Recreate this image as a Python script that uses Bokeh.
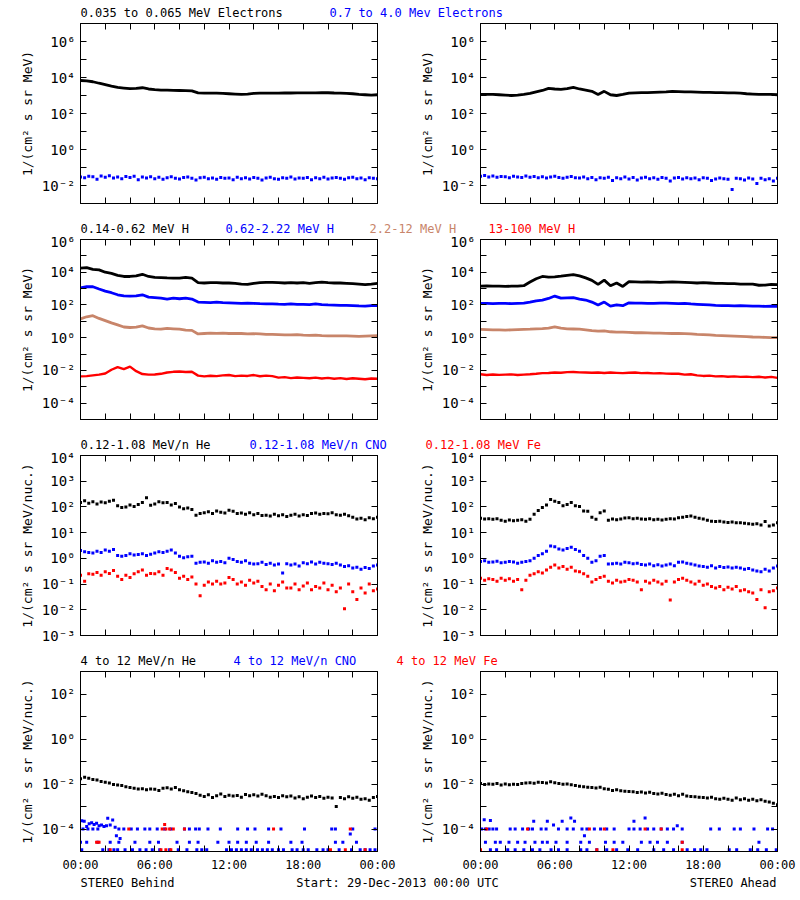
from bokeh.plotting import figure
from bokeh.layouts import column, row
from bokeh.models import Range1d, FixedTicker, LogAxis, LinearAxis, Label, CustomJSTickFormatter
from bokeh.embed import file_html
from bokeh.resources import INLINE

FONT = "DejaVu Sans Mono"
BLACK, BLUE, RED, BROWN = "#000000", "#0000FF", "#FF0000", "#C8856A"

# ---------------- time grids (hours after 29-Dec-2013 00:00 UTC) ----------------
HOURS_30MIN = [i * 0.5 for i in range(49)]
HOURS_20MIN = [i / 3 for i in range(73)]

TIME_TICKS = [0, 6, 12, 18, 24]
TIME_LABELS = ["00:00", "06:00", "12:00", "18:00", "00:00"]
TIME_MINOR = [2, 4, 8, 10, 14, 16, 20, 22]

# ---------------- row 1 : electrons ----------------
ELEC_LO_BEHIND = [6800, 6500, 5800, 4800, 4000, 3300, 2800, 2600, 2400, 2500, 2700, 2300, 2100, 2000, 2000, 1950,
                  1900, 1850, 1800, 1400, 1350, 1350, 1350, 1300, 1250, 1200, 1150, 1200, 1300, 1350, 1350, 1350,
                  1350, 1380, 1380, 1400, 1400, 1400, 1400, 1420, 1420, 1380, 1350, 1300, 1250, 1150, 1100, 1050, 1100]
ELEC_LO_AHEAD = [1150, 1150, 1150, 1100, 1050, 1000, 1050, 1150, 1300, 1600, 1900, 2500, 2300, 2200, 2400, 2800,
                 2300, 2000, 1700, 1150, 1700, 1100, 1000, 1150, 1350, 1400, 1450, 1450, 1500, 1550, 1600, 1700,
                 1650, 1600, 1600, 1550, 1500, 1500, 1450, 1450, 1400, 1400, 1350, 1250, 1200, 1150, 1150, 1150, 1100]
ELEC_HI_BEHIND = [0.030, 0.027, 0.033, 0.031, 0.022, 0.034, 0.029, 0.035, 0.026, 0.030, 0.024, 0.032,
                  0.028, 0.033, 0.021, 0.030, 0.026, 0.031, 0.024, 0.029, 0.022, 0.027, 0.031, 0.025,
                  0.023, 0.028, 0.030, 0.025, 0.020, 0.027, 0.029, 0.024, 0.026, 0.022, 0.028, 0.025,
                  0.026, 0.021, 0.029, 0.024, 0.027, 0.023, 0.028, 0.025, 0.020, 0.026, 0.029, 0.024,
                  0.022, 0.027, 0.025, 0.030, 0.023, 0.026, 0.025, 0.028, 0.021, 0.027, 0.024, 0.029,
                  0.023, 0.026, 0.028, 0.025, 0.022, 0.027, 0.029, 0.024, 0.026, 0.021, 0.027, 0.025, 0.024]
ELEC_HI_AHEAD = [0.033, 0.036, 0.030, 0.034, 0.029, 0.032, 0.031, 0.027, 0.033, 0.030, 0.028, 0.034,
                 0.029, 0.032, 0.027, 0.031, 0.026, 0.030, 0.033, 0.028, 0.025, 0.029, 0.032, 0.027,
                 0.026, 0.030, 0.024, 0.028, 0.021, 0.027, 0.025, 0.029, 0.019, 0.027, 0.024, 0.030,
                 0.023, 0.028, 0.020, 0.026, 0.029, 0.024, 0.027, 0.022, 0.028, 0.025, 0.018, 0.026,
                 0.028, 0.023, 0.027, 0.024, 0.026, 0.021, 0.027, 0.025, 0.019, 0.023, 0.026, 0.024,
                 0.022, 0.006, 0.025, 0.024, 0.020, 0.026, 0.023, 0.013, 0.025, 0.021, 0.024, 0.018, 0.025]

# ---------------- row 2 : protons ----------------
H1_BEHIND = [18000, 19000, 15000, 14000, 10000, 8500, 6500, 5500, 5500, 6000, 7500, 5500, 4800, 4700, 4500, 4400,
             4300, 4800, 4400, 2300, 2200, 2300, 2300, 2200, 2200, 2100, 1900, 1800, 2100, 2300, 2400, 2400,
             2300, 2200, 2300, 2200, 2300, 2100, 2300, 2500, 2300, 2200, 2200, 2100, 2000, 1900, 1750, 1900, 2100]
H2_BEHIND = [1100, 1300, 1300, 950, 700, 560, 420, 360, 350, 360, 420, 300, 280, 260, 230, 260,
             240, 260, 230, 150, 145, 140, 150, 140, 135, 130, 125, 130, 125, 120, 118, 115,
             112, 110, 115, 110, 108, 105, 115, 105, 100, 98, 95, 95, 92, 88, 85, 90, 92]
H3_BEHIND = [14, 19, 22, 15, 11, 8, 6, 4.5, 4.2, 4.4, 5.3, 3.9, 3.5, 3.3, 3.7, 3.5,
             3.3, 2.9, 2.8, 1.7, 1.8, 1.9, 1.85, 1.9, 1.8, 1.85, 1.8, 1.7, 1.75, 1.7, 1.6, 1.6,
             1.55, 1.5, 1.5, 1.55, 1.45, 1.4, 1.45, 1.35, 1.3, 1.3, 1.28, 1.3, 1.25, 1.2, 1.25, 1.3, 1.35]
H4_BEHIND = [0.0043, 0.0045, 0.005, 0.0055, 0.0065, 0.011, 0.016, 0.012, 0.017, 0.009, 0.006, 0.0055, 0.0056,
             0.0062, 0.0075, 0.0082, 0.0085, 0.008, 0.0083, 0.0048, 0.0043, 0.0047, 0.0045, 0.005, 0.0052,
             0.0045, 0.0048, 0.0046, 0.0052, 0.0044, 0.0048, 0.0045, 0.0036, 0.0039, 0.0034, 0.0037, 0.0035,
             0.0033, 0.0036, 0.0032, 0.0035, 0.0031, 0.0034, 0.003, 0.0033, 0.0031, 0.0029, 0.0032, 0.0031]
H1_AHEAD = [1400, 1450, 1400, 1400, 1350, 1400, 1400, 1500, 2500, 4000, 5500, 5000, 5200, 5800, 6500, 7200,
            6000, 4500, 3200, 1800, 3300, 1500, 2200, 1350, 2700, 2600, 2500, 2600, 2500, 2400, 2500, 2600,
            2500, 2400, 2300, 2200, 2300, 2200, 2100, 2100, 2000, 2000, 1900, 1900, 1850, 1600, 1650, 1800, 1750]
H2_AHEAD = [125, 125, 120, 125, 125, 120, 125, 130, 150, 180, 200, 250, 350, 260, 270, 280,
            230, 200, 150, 100, 150, 85, 100, 90, 135, 130, 128, 125, 125, 130, 128, 125,
            120, 125, 115, 110, 105, 100, 95, 92, 90, 88, 90, 88, 85, 85, 82, 85, 82]
H3_AHEAD = [3.2, 3.1, 3.0, 3.0, 2.9, 3.0, 3.1, 3.2, 3.3, 3.5, 3.6, 3.8, 4.5, 3.8, 3.5, 3.4,
            3.3, 3.0, 2.7, 2.5, 2.6, 2.3, 2.2, 2.2, 2.1, 2.0, 2.0, 1.95, 1.9, 1.9, 1.85, 1.8,
            1.8, 1.75, 1.7, 1.6, 1.55, 1.5, 1.4, 1.35, 1.3, 1.25, 1.2, 1.15, 1.1, 1.08, 1.05, 1.02, 1.0]
H4_AHEAD = [0.0058, 0.0052, 0.0056, 0.0053, 0.0055, 0.0057, 0.0052, 0.0055, 0.0058, 0.0062, 0.0068, 0.007,
            0.0075, 0.0072, 0.0078, 0.008, 0.0076, 0.0074, 0.0072, 0.0075, 0.007, 0.0074, 0.0071, 0.0068,
            0.0072, 0.0075, 0.0068, 0.007, 0.0066, 0.0068, 0.0064, 0.0062, 0.0063, 0.0055, 0.0058, 0.005,
            0.0046, 0.0048, 0.0043, 0.0045, 0.0041, 0.0043, 0.004, 0.0042, 0.0039, 0.0041, 0.0037, 0.004, 0.0035]

# ---------------- row 3 : suprathermal ions ----------------
HE_LO_BEHIND = [150, 175, 140, 160, 130, 155, 145, 165, 180, 110, 95, 100, 120, 105, 125, 150, 230, 115,
                130, 160, 145, 150, 120, 135, 100, 85, 90, 80, 48, 55, 60, 65, 55, 70, 62, 58,
                75, 68, 55, 58, 52, 60, 50, 55, 46, 48, 44, 52, 45, 50, 42, 47, 52, 44,
                50, 46, 55, 58, 52, 56, 54, 60, 50, 48, 52, 45, 40, 34, 36, 32, 38, 35, 40]
CNO_LO_BEHIND = [2.0, 1.8, 1.7, 1.6, 1.9, 1.7, 2.1, 1.9, 2.2, 1.3, 1.2, 1.3, 1.5, 1.35, 1.4, 1.5, 1.3, 1.45,
                 1.6, 1.8, 1.7, 1.9, 2.1, 1.6, 1.2, 1.05, 1.15, 1.2, 0.65, 0.7, 0.72, 0.65, 0.8, 0.7, 0.75, 0.68,
                 1.0, 0.9, 0.75, 0.7, 0.8, 0.65, 0.6, 0.62, 0.7, 0.58, 0.65, 0.55, 0.6, 0.27, 0.62, 0.55, 0.6, 0.5,
                 0.68, 0.62, 0.72, 0.6, 0.7, 0.64, 0.62, 0.58, 0.65, 0.55, 0.48, 0.52, 0.42, 0.45, 0.38, 0.44, 0.4,
                 0.5, 0.55]
FE_LO_BEHIND = [0.22, 0.13, 0.25, 0.24, 0.28, 0.22, 0.3, 0.26, 0.34, 0.2, 0.15, 0.22, 0.18, 0.25, 0.3, 0.35, 0.22,
                0.26, 0.25, 0.3, 0.22, 0.4, 0.35, 0.28, 0.17, 0.2, 0.15, 0.19, 0.1, 0.035, 0.09, 0.12, 0.1, 0.13,
                0.1, 0.11, 0.18, 0.15, 0.1, 0.12, 0.09, 0.14, 0.11, 0.13, 0.08, 0.06, 0.1, 0.055, 0.09, 0.12, 0.07,
                0.07, 0.1, 0.06, 0.085, 0.11, 0.06, 0.08, 0.07, 0.11, 0.06, 0.09, 0.05, 0.07, 0.011, 0.1, 0.05,
                0.025, 0.07, 0.045, 0.1, 0.055, 0.065]
HE_LO_AHEAD = [36, 34, 35, 33, 35, 30, 28, 31, 29, 30, 32, 28, 33, 52, 72, 95, 120, 195,
               165, 150, 110, 125, 150, 110, 105, 70, 68, 40, 33, 60, 70, 30, 34, 32, 34, 37,
               38, 35, 36, 34, 33, 35, 32, 33, 31, 33, 35, 34, 38, 40, 42, 44, 40, 36,
               34, 30, 28, 27, 28, 26, 25, 26, 24, 24, 23, 22, 21, 22, 20, 27, 18, 20, 24]
CNO_LO_AHEAD = [0.75, 0.8, 0.7, 0.72, 0.78, 0.68, 0.7, 0.75, 0.72, 0.65, 0.7, 0.75, 0.8, 1.0, 1.3, 1.5, 1.9,
                3.0, 2.8, 2.3, 2.1, 2.4, 2.7, 2.2, 1.9, 1.3, 1.0, 0.7, 0.8, 1.2, 1.3, 0.6, 0.62, 0.65, 0.6,
                0.7, 0.68, 0.62, 0.65, 0.58, 0.55, 0.6, 0.52, 0.56, 0.5, 0.55, 0.6, 0.52, 0.7, 0.72, 0.65,
                0.6, 0.55, 0.5, 0.48, 0.45, 0.52, 0.42, 0.48, 0.44, 0.46, 0.42, 0.45, 0.42, 0.38, 0.4, 0.35,
                0.32, 0.3, 0.38, 0.32, 0.42, 0.5]
FE_LO_AHEAD = [0.17, 0.14, 0.16, 0.15, 0.13, 0.17, 0.14, 0.16, 0.13, 0.15, 0.06, 0.14, 0.22, 0.25, 0.3, 0.27,
               0.35, 0.45, 0.55, 0.42, 0.48, 0.38, 0.45, 0.32, 0.3, 0.25, 0.2, 0.12, 0.15, 0.18, 0.2, 0.13,
               0.11, 0.14, 0.12, 0.13, 0.15, 0.14, 0.12, 0.06, 0.13, 0.11, 0.14, 0.12, 0.1, 0.13, 0.024, 0.12,
               0.15, 0.17, 0.14, 0.12, 0.1, 0.13, 0.09, 0.1, 0.08, 0.07, 0.08, 0.06, 0.075, 0.065, 0.08, 0.055,
               0.06, 0.05, 0.045, 0.025, 0.06, 0.012, 0.05, 0.055, 0.07]

# ---------------- row 4 : energetic ions ----------------
HE_HI_BEHIND = [0.017, 0.02, 0.018, 0.016, 0.015, 0.013, 0.012, 0.011, 0.0095, 0.009, 0.0085, 0.0075,
                0.007, 0.0065, 0.006, 0.0062, 0.0055, 0.006, 0.0058, 0.0052, 0.0065, 0.0068, 0.006, 0.007,
                0.0055, 0.005, 0.0045, 0.0042, 0.0038, 0.0032, 0.0028, 0.0033, 0.0025, 0.003, 0.0036, 0.0028,
                0.0032, 0.0029, 0.0031, 0.0026, 0.0034, 0.003, 0.0033, 0.0029, 0.0035, 0.003, 0.0026, 0.0028,
                0.0025, 0.003, 0.0027, 0.0029, 0.0024, 0.0027, 0.0022, 0.0026, 0.0029, 0.0025, 0.0028, 0.0023,
                0.0026, 0.0024, 0.001, 0.0025, 0.0022, 0.0027, 0.0023, 0.0026, 0.0021, 0.0022, 0.0019, 0.0025,
                0.0028]
HE_HI_AHEAD = [0.0105, 0.0095, 0.01, 0.0098, 0.0105, 0.009, 0.01, 0.0092, 0.0098, 0.0095, 0.0105, 0.011,
               0.0115, 0.0108, 0.012, 0.0118, 0.0112, 0.0125, 0.0115, 0.0105, 0.0098, 0.01, 0.0092, 0.0085,
               0.008, 0.0075, 0.0072, 0.007, 0.0066, 0.0072, 0.0062, 0.0058, 0.0052, 0.0055, 0.005, 0.0048,
               0.0047, 0.0045, 0.0042, 0.0044, 0.004, 0.0043, 0.0038, 0.0036, 0.0039, 0.0034, 0.0032, 0.0035,
               0.003, 0.0035, 0.0029, 0.0028, 0.0027, 0.0026, 0.0025, 0.0024, 0.0026, 0.0022, 0.0021, 0.0023,
               0.0021, 0.0019, 0.0024, 0.002, 0.0022, 0.0019, 0.0021, 0.0018, 0.002, 0.0017, 0.0016, 0.0014,
               0.0012]
# sparse, count-limited channels: (hour, value)
CNO_HI_BEHIND = [
    (0.1, 2.3e-4), (0.3, 2.2e-4), (0.5, 1.3e-4), (0.7, 1.7e-4), (0.9, 1.9e-4), (1.1, 1.6e-4), (1.3, 1.8e-4),
    (1.5, 1.4e-4), (1.7, 1.5e-4), (1.9, 1.3e-4), (2.1, 1.4e-4), (2.2, 3.0e-4), (2.4, 1.5e-4), (2.6, 2.5e-4),
    (2.8, 1.2e-4), (2.9, 5e-5), (3.2, 3.8e-5), (21.8, 6e-5),
    (0.2, 1e-4), (0.6, 1e-4), (1.0, 1e-4), (1.4, 1e-4), (3.1, 1e-4), (3.5, 1e-4), (4.1, 1e-4), (4.6, 1e-4),
    (5.2, 1e-4), (5.6, 1e-4), (6.2, 1e-4), (6.8, 1e-4), (7.3, 1e-4), (8.4, 1e-4), (8.8, 1e-4), (9.3, 1e-4),
    (9.6, 1e-4), (10.3, 1e-4), (11.3, 1e-4), (12.7, 1e-4), (13.5, 1e-4), (14.1, 1e-4), (15.2, 1e-4),
    (16.2, 1e-4), (18.1, 1e-4), (20.3, 1e-4), (20.6, 1e-4), (22.0, 1e-4), (23.8, 1e-4),
    (0.0, 2.6e-5), (0.5, 2.6e-5), (1.4, 2.6e-5), (2.4, 2.6e-5), (3.1, 2.6e-5), (4.4, 2.6e-5), (5.6, 2.6e-5),
    (6.3, 2.6e-5), (7.8, 2.6e-5), (8.8, 2.6e-5), (9.5, 2.6e-5), (11.1, 2.6e-5), (12.0, 2.6e-5), (12.7, 2.6e-5),
    (13.4, 2.6e-5), (14.2, 2.6e-5), (15.2, 2.6e-5), (17.0, 2.6e-5), (17.9, 2.6e-5), (20.6, 2.6e-5),
    (21.2, 2.6e-5), (22.3, 2.6e-5),
    (0.1, 1.2e-5), (1.8, 1.2e-5), (2.3, 1.2e-5), (2.7, 1.2e-5), (3.0, 1.2e-5), (3.6, 1.2e-5), (4.2, 1.2e-5),
    (4.8, 1.2e-5), (5.3, 1.2e-5), (5.8, 1.2e-5), (6.4, 1.2e-5), (7.2, 1.2e-5), (7.9, 1.2e-5), (8.6, 1.2e-5),
    (9.4, 1.2e-5), (9.8, 1.2e-5), (10.2, 1.2e-5), (11.8, 1.2e-5), (12.2, 1.2e-5), (12.6, 1.2e-5),
    (13.0, 1.2e-5), (13.4, 1.2e-5), (13.8, 1.2e-5), (14.3, 1.2e-5), (14.7, 1.2e-5), (15.1, 1.2e-5),
    (15.5, 1.2e-5), (16.0, 1.2e-5), (16.4, 1.2e-5), (17.1, 1.2e-5), (17.5, 1.2e-5), (18.0, 1.2e-5),
    (18.4, 1.2e-5), (19.1, 1.2e-5), (19.6, 1.2e-5), (20.0, 1.2e-5), (20.9, 1.2e-5), (21.9, 1.2e-5),
    (22.6, 1.2e-5), (23.0, 1.2e-5), (23.4, 1.2e-5), (23.8, 1.2e-5)]
FE_HI_BEHIND = [
    (3.9, 1e-4), (6.6, 1e-4), (6.8, 1.6e-4), (6.9, 1e-4), (7.2, 1e-4), (7.5, 1e-4), (8.4, 1e-4), (15.6, 1e-4),
    (21.8, 1e-4), (1.3, 2.6e-5), (1.5, 2.6e-5), (2.4, 1.2e-5), (6.5, 1.2e-5), (6.9, 1.2e-5), (7.3, 1.2e-5),
    (20.2, 1.2e-5), (21.4, 1.2e-5), (23.0, 1.2e-5)]
CNO_HI_AHEAD = [
    (0.3, 2.6e-4), (0.8, 2.4e-4), (4.3, 2.2e-4), (5.4, 2.2e-4), (5.9, 1.5e-4), (6.6, 2.2e-4), (7.3, 3.1e-4),
    (7.6, 2.2e-4), (12.4, 2.2e-4), (13.3, 3.1e-4), (15.9, 1.4e-4), (8.4, 5e-5),
    (0.1, 1e-4), (0.4, 1e-4), (0.7, 1e-4), (1.0, 1e-4), (1.3, 1e-4), (2.4, 1e-4), (2.8, 1e-4), (3.4, 1e-4),
    (3.9, 1e-4), (4.2, 1e-4), (4.9, 1e-4), (5.3, 1e-4), (6.3, 1e-4), (7.0, 1e-4), (7.5, 1e-4), (8.2, 1e-4),
    (8.6, 1e-4), (9.2, 1e-4), (9.7, 1e-4), (10.2, 1e-4), (10.8, 1e-4), (12.0, 1e-4), (12.4, 1e-4),
    (12.9, 1e-4), (13.5, 1e-4), (14.0, 1e-4), (14.6, 1e-4), (15.1, 1e-4), (15.6, 1e-4), (16.3, 1e-4),
    (18.6, 1e-4), (19.3, 1e-4), (20.5, 1e-4), (21.0, 1e-4), (22.1, 1e-4), (23.2, 1e-4), (23.6, 1e-4),
    (0.4, 2.6e-5), (1.2, 2.6e-5), (1.6, 2.6e-5), (2.3, 2.6e-5), (3.0, 2.6e-5), (3.6, 2.6e-5), (4.4, 2.6e-5),
    (5.0, 2.6e-5), (5.4, 2.6e-5), (6.1, 2.6e-5), (7.0, 2.6e-5), (8.1, 2.6e-5), (8.8, 2.6e-5), (10.1, 2.6e-5),
    (10.8, 2.6e-5), (11.5, 2.6e-5), (13.0, 2.6e-5), (13.7, 2.6e-5), (14.3, 2.6e-5), (15.1, 2.6e-5),
    (16.3, 2.6e-5), (22.5, 2.6e-5),
    (0.8, 1.2e-5), (1.3, 1.2e-5), (2.2, 1.2e-5), (2.8, 1.2e-5), (3.5, 1.2e-5), (4.2, 1.2e-5), (4.8, 1.2e-5),
    (5.7, 1.2e-5), (6.3, 1.2e-5), (7.0, 1.2e-5), (8.1, 1.2e-5), (8.6, 1.2e-5), (9.4, 1.2e-5), (10.2, 1.2e-5),
    (11.0, 1.2e-5), (11.9, 1.2e-5), (12.7, 1.2e-5), (14.0, 1.2e-5), (14.8, 1.2e-5), (15.6, 1.2e-5),
    (16.7, 1.2e-5), (17.3, 1.2e-5), (17.8, 1.2e-5), (18.3, 1.2e-5), (20.1, 1.2e-5), (20.7, 1.2e-5),
    (21.8, 1.2e-5), (22.4, 1.2e-5), (23.1, 1.2e-5), (23.9, 1.2e-5)]
FE_HI_AHEAD = [
    (0.5, 1e-4), (3.8, 1e-4), (8.8, 1e-4), (10.0, 1e-4), (13.3, 1e-4), (14.6, 1e-4), (16.3, 2.6e-5),
    (0.0, 1.2e-5), (9.4, 1.2e-5), (10.7, 1.2e-5), (16.3, 1.2e-5)]

# ---------------- axes ----------------
Y1_RANGE, Y1_TICKS, Y1_MINOR = (1e-3, 1e7), [1e-2, 1e0, 1e2, 1e4, 1e6], [1e-1, 1e1, 1e3, 1e5]
Y1_LABELS = ["10⁻²", "10⁰", "10²", "10⁴", "10⁶"]
Y2_RANGE, Y2_TICKS, Y2_MINOR = (1e-5, 1e6), [1e-4, 1e-2, 1e0, 1e2, 1e4, 1e6], [1e-3, 1e-1, 1e1, 1e3, 1e5]
Y2_LABELS = ["10⁻⁴", "10⁻²", "10⁰", "10²", "10⁴", "10⁶"]
Y3_RANGE, Y3_TICKS, Y3_MINOR = (1e-3, 1e4), [1e-3, 1e-2, 1e-1, 1e0, 1e1, 1e2, 1e3, 1e4], []
Y3_LABELS = ["10⁻³", "10⁻²", "10⁻¹", "10⁰", "10¹", "10²", "10³", "10⁴"]
Y4_RANGE, Y4_TICKS, Y4_MINOR = (1e-5, 1e3), [1e-4, 1e-2, 1e0, 1e2], [1e-3, 1e-1, 1e1]
Y4_LABELS = ["10⁻⁴", "10⁻²", "10⁰", "10²"]
UNIT_MEV = "1/(cm² s sr MeV)"
UNIT_NUC = "1/(cm² s sr MeV/nuc.)"

ROW_TITLES = [
    [("0.035 to 0.065 MeV Electrons", BLACK, 80), ("0.7 to 4.0 Mev Electrons", BLUE, 329)],
    [("0.14-0.62 MeV H", BLACK, 80), ("0.62-2.22 MeV H", BLUE, 225), ("2.2-12 MeV H", BROWN, 369),
     ("13-100 MeV H", RED, 488)],
    [("0.12-1.08 MeV/n He", BLACK, 80), ("0.12-1.08 MeV/n CNO", BLUE, 249), ("0.12-1.08 MeV Fe", RED, 425)],
    [("4 to 12 MeV/n He", BLACK, 80), ("4 to 12 MeV/n CNO", BLUE, 233), ("4 to 12 MeV Fe", RED, 396)],
]
FOOTER = [("STEREO Behind", 80, "left"), ("Start: 29-Dec-2013 00:00 UTC", 397, "center"),
          ("STEREO Ahead", 776, "right")]


def style_axis(ax, size):
    ax.axis_line_color = "black"
    ax.axis_line_width = 1
    ax.major_tick_in = 6
    ax.major_tick_out = 0
    ax.minor_tick_in = 6
    ax.minor_tick_out = 0
    ax.major_tick_line_color = "black"
    ax.minor_tick_line_color = "black"
    ax.major_label_text_font = FONT
    ax.major_label_text_font_size = size
    ax.major_label_text_color = "black"


def blank():
    return CustomJSTickFormatter(code="return '';")


def panel(yrange, yticks, ylabels, yminor, ylabel, show_time, series):
    bottom = 23 if show_time else 13
    p = figure(width=400, height=186 + bottom, x_range=Range1d(0, 24), y_range=Range1d(*yrange),
               y_axis_type="log", toolbar_location=None, output_backend="svg",
               min_border_left=80, min_border_right=23, min_border_top=6, min_border_bottom=bottom)
    p.grid.visible = False
    p.outline_line_color = "black"
    p.background_fill_color = "white"
    p.border_fill_color = None

    xa = p.xaxis[0]
    xa.ticker = FixedTicker(ticks=TIME_TICKS, minor_ticks=TIME_MINOR)
    style_axis(xa, "12px")
    if show_time:
        xa.major_label_overrides = {float(t): s for t, s in zip(TIME_TICKS, TIME_LABELS)}
        xa.major_label_standoff = 6
    else:
        xa.formatter = blank()
        xa.major_label_standoff = 0

    ya = p.yaxis[0]
    ya.ticker = FixedTicker(ticks=yticks, minor_ticks=yminor)
    ya.major_label_overrides = {float(t): s for t, s in zip(yticks, ylabels)}
    style_axis(ya, "14px")
    ya.major_label_standoff = 5
    ya.axis_label = ylabel
    ya.axis_label_text_font = FONT
    ya.axis_label_text_font_size = "13px"
    ya.axis_label_text_font_style = "normal"
    ya.axis_label_text_color = "black"
    ya.axis_label_standoff = 4

    top = LinearAxis(ticker=FixedTicker(ticks=TIME_TICKS, minor_ticks=TIME_MINOR), formatter=blank(),
                     major_label_standoff=0)
    style_axis(top, "12px")
    p.add_layout(top, "above")
    right = LogAxis(ticker=FixedTicker(ticks=yticks, minor_ticks=yminor), formatter=blank(),
                    major_label_standoff=0)
    style_axis(right, "14px")
    p.add_layout(right, "right")

    for kind, xs, ys, color, w in series:
        if kind == "line":
            p.line(xs, ys, line_color=color, line_width=w)
        else:
            p.scatter(xs, ys, marker="square", size=w, fill_color=color, line_color=None)
    return p


def strip(items, height, ymid):
    f = figure(width=800, height=height, x_range=Range1d(0, 800), y_range=Range1d(0, height),
               x_axis_type=None, y_axis_type=None, toolbar_location=None, output_backend="svg",
               min_border=0)
    f.outline_line_color = None
    f.background_fill_color = "white"
    f.border_fill_color = "white"
    for text, color, x, align in items:
        f.add_layout(Label(x=x, y=ymid, text=text, text_color=color, text_font=FONT, text_font_size="12px",
                           text_align=align, text_baseline="middle"))
    return f


def unzip(pairs):
    return [a for a, b in pairs], [b for a, b in pairs]


T30, T20 = HOURS_30MIN, HOURS_20MIN
cb_t, cb_v = unzip(CNO_HI_BEHIND)
fb_t, fb_v = unzip(FE_HI_BEHIND)
ca_t, ca_v = unzip(CNO_HI_AHEAD)
fa_t, fa_v = unzip(FE_HI_AHEAD)

rows_spec = [
    (Y1_RANGE, Y1_TICKS, Y1_LABELS, Y1_MINOR, UNIT_MEV,
     [("line", T30, ELEC_LO_BEHIND, BLACK, 2.8), ("scatter", T20, ELEC_HI_BEHIND, BLUE, 3)],
     [("line", T30, ELEC_LO_AHEAD, BLACK, 2.8), ("scatter", T20, ELEC_HI_AHEAD, BLUE, 3)]),
    (Y2_RANGE, Y2_TICKS, Y2_LABELS, Y2_MINOR, UNIT_MEV,
     [("line", T30, H1_BEHIND, BLACK, 2.8), ("line", T30, H2_BEHIND, BLUE, 2.8),
      ("line", T30, H3_BEHIND, BROWN, 2.8), ("line", T30, H4_BEHIND, RED, 2.4)],
     [("line", T30, H1_AHEAD, BLACK, 2.8), ("line", T30, H2_AHEAD, BLUE, 2.8),
      ("line", T30, H3_AHEAD, BROWN, 2.8), ("line", T30, H4_AHEAD, RED, 2.4)]),
    (Y3_RANGE, Y3_TICKS, Y3_LABELS, Y3_MINOR, UNIT_NUC,
     [("scatter", T20, HE_LO_BEHIND, BLACK, 3), ("scatter", T20, CNO_LO_BEHIND, BLUE, 3),
      ("scatter", T20, FE_LO_BEHIND, RED, 3)],
     [("scatter", T20, HE_LO_AHEAD, BLACK, 3), ("scatter", T20, CNO_LO_AHEAD, BLUE, 3),
      ("scatter", T20, FE_LO_AHEAD, RED, 3)]),
    (Y4_RANGE, Y4_TICKS, Y4_LABELS, Y4_MINOR, UNIT_NUC,
     [("scatter", T20, HE_HI_BEHIND, BLACK, 3), ("scatter", cb_t, cb_v, BLUE, 3),
      ("scatter", fb_t, fb_v, RED, 3)],
     [("scatter", T20, HE_HI_AHEAD, BLACK, 3), ("scatter", ca_t, ca_v, BLUE, 3),
      ("scatter", fa_t, fa_v, RED, 3)]),
]

STRIP_H = 24      # title strip; the panel row below overlaps its lowest 7 px
OVERLAP = 7

children = []
for i, (yr, yt, yl, ym, unit, left_series, right_series) in enumerate(rows_spec):
    for _, xs, ys, _, _ in left_series + right_series:
        assert len(xs) == len(ys), (i, len(xs), len(ys))
    children.append(strip([(t, c, x, "left") for t, c, x in ROW_TITLES[i]], STRIP_H, STRIP_H - 12.5))
    last = i == len(rows_spec) - 1
    children.append(row(panel(yr, yt, yl, ym, unit, last, left_series),
                        panel(yr, yt, yl, ym, unit, last, right_series),
                        styles={"margin-top": f"-{OVERLAP}px"}))
children.append(strip([(t, BLACK, x, a) for t, x, a in FOOTER], 18, 10))

layout = column(*children)
open("out.html", "w").write(file_html(layout, INLINE))
